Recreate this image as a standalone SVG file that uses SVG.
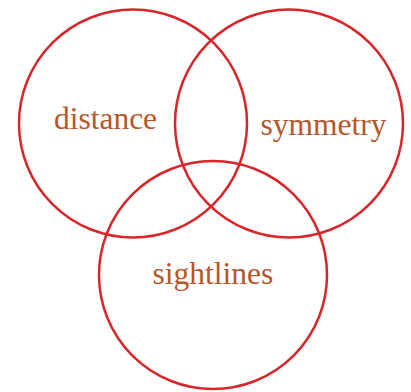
<svg xmlns="http://www.w3.org/2000/svg" width="411" height="392" viewBox="0 0 411 392">
<style>
.c{fill:none;stroke:#d7262b;stroke-width:2.5}
.t{font-family:"Liberation Serif",serif;font-size:31.5px;fill:#b5562b;text-anchor:middle}
</style>
<rect width="411" height="392" fill="#fff"/>
<g id="distance"><circle class="c" cx="133" cy="123.5" r="114"/><text class="t" x="105.5" y="129">distance</text></g>
<g id="symmetry"><circle class="c" cx="289" cy="123.5" r="114"/><text class="t" x="323.5" y="135">symmetry</text></g>
<g id="sightlines"><circle class="c" cx="213" cy="275" r="114"/><text class="t" x="213" y="284">sightlines</text></g>
</svg>
